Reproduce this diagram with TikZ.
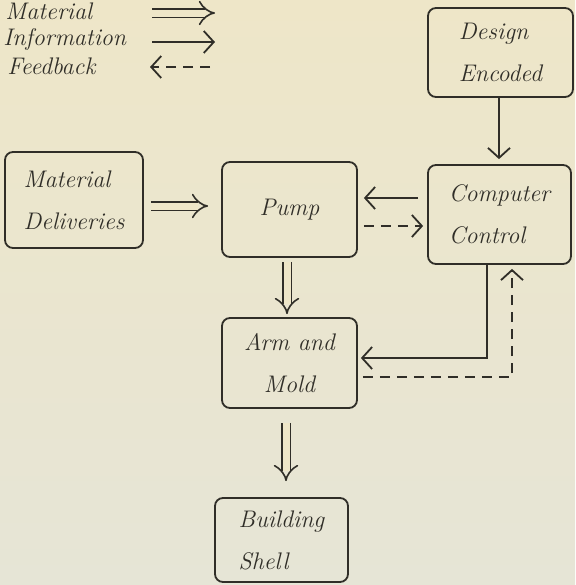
\documentclass[tikz,border=0pt]{standalone}
\usepackage{tikz}
\usetikzlibrary{arrows.meta, positioning, calc}
\definecolor{cInk}{RGB}{48,46,40}
\definecolor{cPaper}{RGB}{238,230,200}
\definecolor{cPaperLow}{RGB}{230,229,214}

\begin{document}
\begin{tikzpicture}[x=0.5pt, y=-0.5pt,
      box/.style={draw=cInk, rounded corners=4pt, line width=0.9pt, align=left,
                  font=\large\itshape, text=cInk},
      legtxt/.style={font=\large\itshape, text=cInk, anchor=west, inner sep=0pt},
      mat/.style={draw=cInk, double=cPaper, double distance=3.5pt, line width=0.8pt,
                  -{Implies[length=6pt, width=13pt]}},
      info/.style={draw=cInk, line width=0.9pt, -{Straight Barb[length=5pt, width=11pt]}},
      fb/.style={info, dash pattern=on 5pt off 3.5pt}
    ]
    \shade[top color=cPaper, bottom color=cPaperLow] (0,0) rectangle (575,585);
    \useasboundingbox (0,0) rectangle (575,585);

    % legend
    \node[legtxt] (lgmat) at (5,11) {Material};
    \node[legtxt] (lginf) at (3,39) {Information};
    \node[legtxt] (lgfb) at (7,66) {Feedback};
    \coordinate (matA) at (152,13);
    \coordinate (matB) at (215,13);
    \coordinate (infA) at (152,42);
    \coordinate (infB) at (215,42);
    \coordinate (fbA) at (210,67);
    \coordinate (fbB) at (150,67);
    \draw[mat] (matA) -- (matB);
    \draw[info] (infA) -- (infB);
    \draw[fb] (fbA) -- (fbB);

    % boxes
    \node[box, minimum width=72.5pt, minimum height=44.5pt] (design) at (500.5,52.5) {Design\\[7pt]Encoded};
    \node[box, minimum width=71.5pt, minimum height=49.5pt] (control) at (499.5,214.5) {Computer\\[7pt]Control};
    \node[box, minimum width=69pt, minimum height=48pt] (deliv) at (74,200) {Material\\[7pt]Deliveries};
    \node[box, minimum width=67.5pt, minimum height=47.5pt] (pump) at (289.5,209.5) {Pump};
    \node[box, align=center, minimum width=67.5pt, minimum height=45pt] (arm) at (289.5,363) {Arm and\\[7pt]Mold};
    \node[box, minimum width=66.5pt, minimum height=42pt] (shell) at (281.5,540) {Building\\[7pt]Shell};

    % material flow
    \draw[mat] ([xshift=3.5pt, yshift=-3pt]deliv.east) -- ([xshift=-6.5pt, yshift=1.75pt]pump.west);
    \draw[mat] ([xshift=-1.25pt, yshift=-2pt]pump.south) -- ([xshift=-1.25pt, yshift=1.5pt]arm.north);
    \draw[mat] ([xshift=-1.75pt, yshift=-7pt]arm.south) -- ([xshift=2.25pt, yshift=8pt]shell.north);

    % information
    \draw[info] ([xshift=-0.75pt]design.south) -- ([xshift=-0.25pt, yshift=2.5pt]control.north);
    \draw[info] ([xshift=-4.5pt, yshift=8.25pt]control.west) -- ([xshift=3pt, yshift=5.75pt]pump.east);
    \draw[info] ([xshift=-6.25pt]control.south) |- ([xshift=1.5pt, yshift=2.5pt]arm.east);

    % feedback
    \draw[fb] ([xshift=3pt, yshift=-8.25pt]pump.east) -- ([xshift=-2pt, yshift=-5.75pt]control.west);
    \draw[fb] ([xshift=2.5pt, yshift=-7pt]arm.east) -| ([xshift=6.25pt, yshift=-2pt]control.south);
  \end{tikzpicture}
\end{document}
